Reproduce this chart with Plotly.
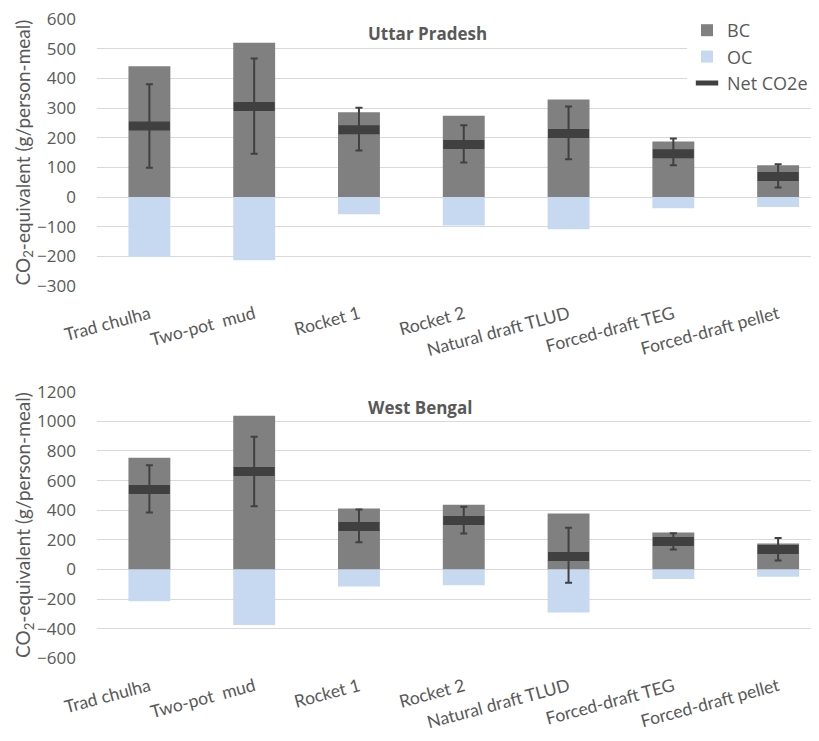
import plotly.graph_objects as go
from plotly.subplots import make_subplots

categories = ["Trad chulha", "Two-pot  mud", "Rocket 1", "Rocket 2",
              "Natural draft TLUD", "Forced-draft TEG", "Forced-draft pellet"]

# Uttar Pradesh
up_bc = [441, 520, 286, 274, 329, 187, 107]
up_oc = [-201, -213, -58, -96, -109, -38, -34]
up_net = [239, 305, 227, 177, 214, 146, 69]
up_err_hi = [380, 467, 301, 242, 305, 197, 110]
up_err_lo = [99, 146, 157, 116, 127, 107, 32]

# West Bengal
wb_bc = [754, 1037, 412, 436, 378, 250, 175]
wb_oc = [-214, -376, -115, -106, -290, -65, -50]
wb_net = [540, 662, 290, 331, 88, 189, 135]
wb_err_hi = [704, 895, 405, 423, 281, 245, 213]
wb_err_lo = [385, 427, 184, 243, -90, 135, 61]

titles = ["Uttar Pradesh", "West Bengal"]
y_ticks_up = [-300, -200, -100, 0, 100, 200, 300, 400, 500, 600]
y_ticks_wb = [-600, -400, -200, 0, 200, 400, 600, 800, 1000, 1200]

BC_COLOR = "#808080"
OC_COLOR = "#c6d9f1"
NET_COLOR = "#404040"
TXT = "#595959"
GRID = "#d9d9d9"

fig = make_subplots(rows=2, cols=1)

x = list(range(len(categories)))

def add_panel(row, bc, oc, net, hi, lo, show):
    fig.add_trace(go.Bar(x=x, y=bc, name="BC", marker=dict(color=BC_COLOR, line=dict(width=0)),
                         width=0.4, showlegend=show, legendgroup="bc"), row=row, col=1)
    fig.add_trace(go.Bar(x=x, y=oc, name="OC", marker=dict(color=OC_COLOR, line=dict(width=0)),
                         width=0.4, showlegend=show, legendgroup="oc"), row=row, col=1)
    fig.add_trace(go.Scatter(
        x=x, y=net, name="Net CO2e", mode="markers",
        marker=dict(symbol="line-ew", size=29.3, color=NET_COLOR,
                    line=dict(width=9, color=NET_COLOR)),
        error_y=dict(type="data", symmetric=False,
                     array=[h - n for h, n in zip(hi, net)],
                     arrayminus=[n - l for n, l in zip(net, lo)],
                     color=NET_COLOR, thickness=2, width=3.5),
        showlegend=show, legendgroup="net"), row=row, col=1)

add_panel(1, up_bc, up_oc, up_net, up_err_hi, up_err_lo, True)
add_panel(2, wb_bc, wb_oc, wb_net, wb_err_hi, wb_err_lo, False)

# the page body has an 8px margin, so work in reference pixels minus 8
OFF = 8
W, H = 819 - OFF, 741 - OFF
L = 97 - OFF
PW = W - L

def px(xr):
    return (xr - OFF - L) / PW

def py(yr):
    return 1 - (yr - OFF) / H

xaxis_common = dict(range=[-0.5, 6.39], tickmode="array", tickvals=x, ticktext=categories,
                    tickangle=-15, showgrid=False, zeroline=False, showline=False,
                    ticks="", ticklabelstandoff=14,
                    tickfont=dict(family="Lato", size=17.5, color=TXT), automargin=False)
yfont = dict(family="Open Sans", size=17, color=TXT)
fig.update_layout(
    xaxis=dict(**xaxis_common, domain=[0, 1]),
    xaxis2=dict(**xaxis_common, domain=[0, 1]),
    yaxis=dict(domain=[py(286), py(19)], range=[-300, 600], tickvals=y_ticks_up,
               showgrid=True, gridcolor=GRID, gridwidth=1, zeroline=True, zerolinecolor=GRID,
               zerolinewidth=1, ticks="", ticklabelstandoff=20, ticklabeloverflow="allow",
               tickfont=yfont, automargin=False),
    yaxis2=dict(domain=[py(658.3), py(391.7)], range=[-600, 1200], tickvals=y_ticks_wb,
                showgrid=True, gridcolor=GRID, gridwidth=1, zeroline=True, zerolinecolor=GRID,
                zerolinewidth=1, ticks="", ticklabelstandoff=20, ticklabeloverflow="allow",
                tickfont=yfont, automargin=False),
    barmode="relative",
    width=W, height=H,
    margin=dict(l=L, r=0, t=0, b=0),
    paper_bgcolor="white", plot_bgcolor="white",
    legend=dict(x=px(687), y=py(12), xanchor="left", yanchor="top",
                bgcolor="white", font=dict(family="Open Sans", size=18, color=TXT),
                tracegroupgap=0, itemwidth=30),
    showlegend=True,
)

annotations = [
    dict(text="<b>Uttar Pradesh</b>", x=px(427), y=py(34), xref="paper", yref="paper",
         showarrow=False, xanchor="center", yanchor="middle",
         font=dict(family="Open Sans", size=17, color=TXT)),
    dict(text="<b>West Bengal</b>", x=px(420), y=py(407), xref="paper", yref="paper",
         showarrow=False, xanchor="center", yanchor="middle",
         font=dict(family="Open Sans", size=17, color=TXT)),
    dict(text="CO<sub>2</sub>-equivalent (g/person-meal)", x=px(24), y=py(152.5),
         xref="paper", yref="paper", showarrow=False, textangle=-90,
         xanchor="center", yanchor="middle", font=dict(family="Lato", size=19, color=TXT)),
    dict(text="CO<sub>2</sub>-equivalent (g/person-meal)", x=px(24), y=py(525),
         xref="paper", yref="paper", showarrow=False, textangle=-90,
         xanchor="center", yanchor="middle", font=dict(family="Lato", size=19, color=TXT)),
]
fig.update_layout(annotations=annotations)

fig.write_html("out.html")
